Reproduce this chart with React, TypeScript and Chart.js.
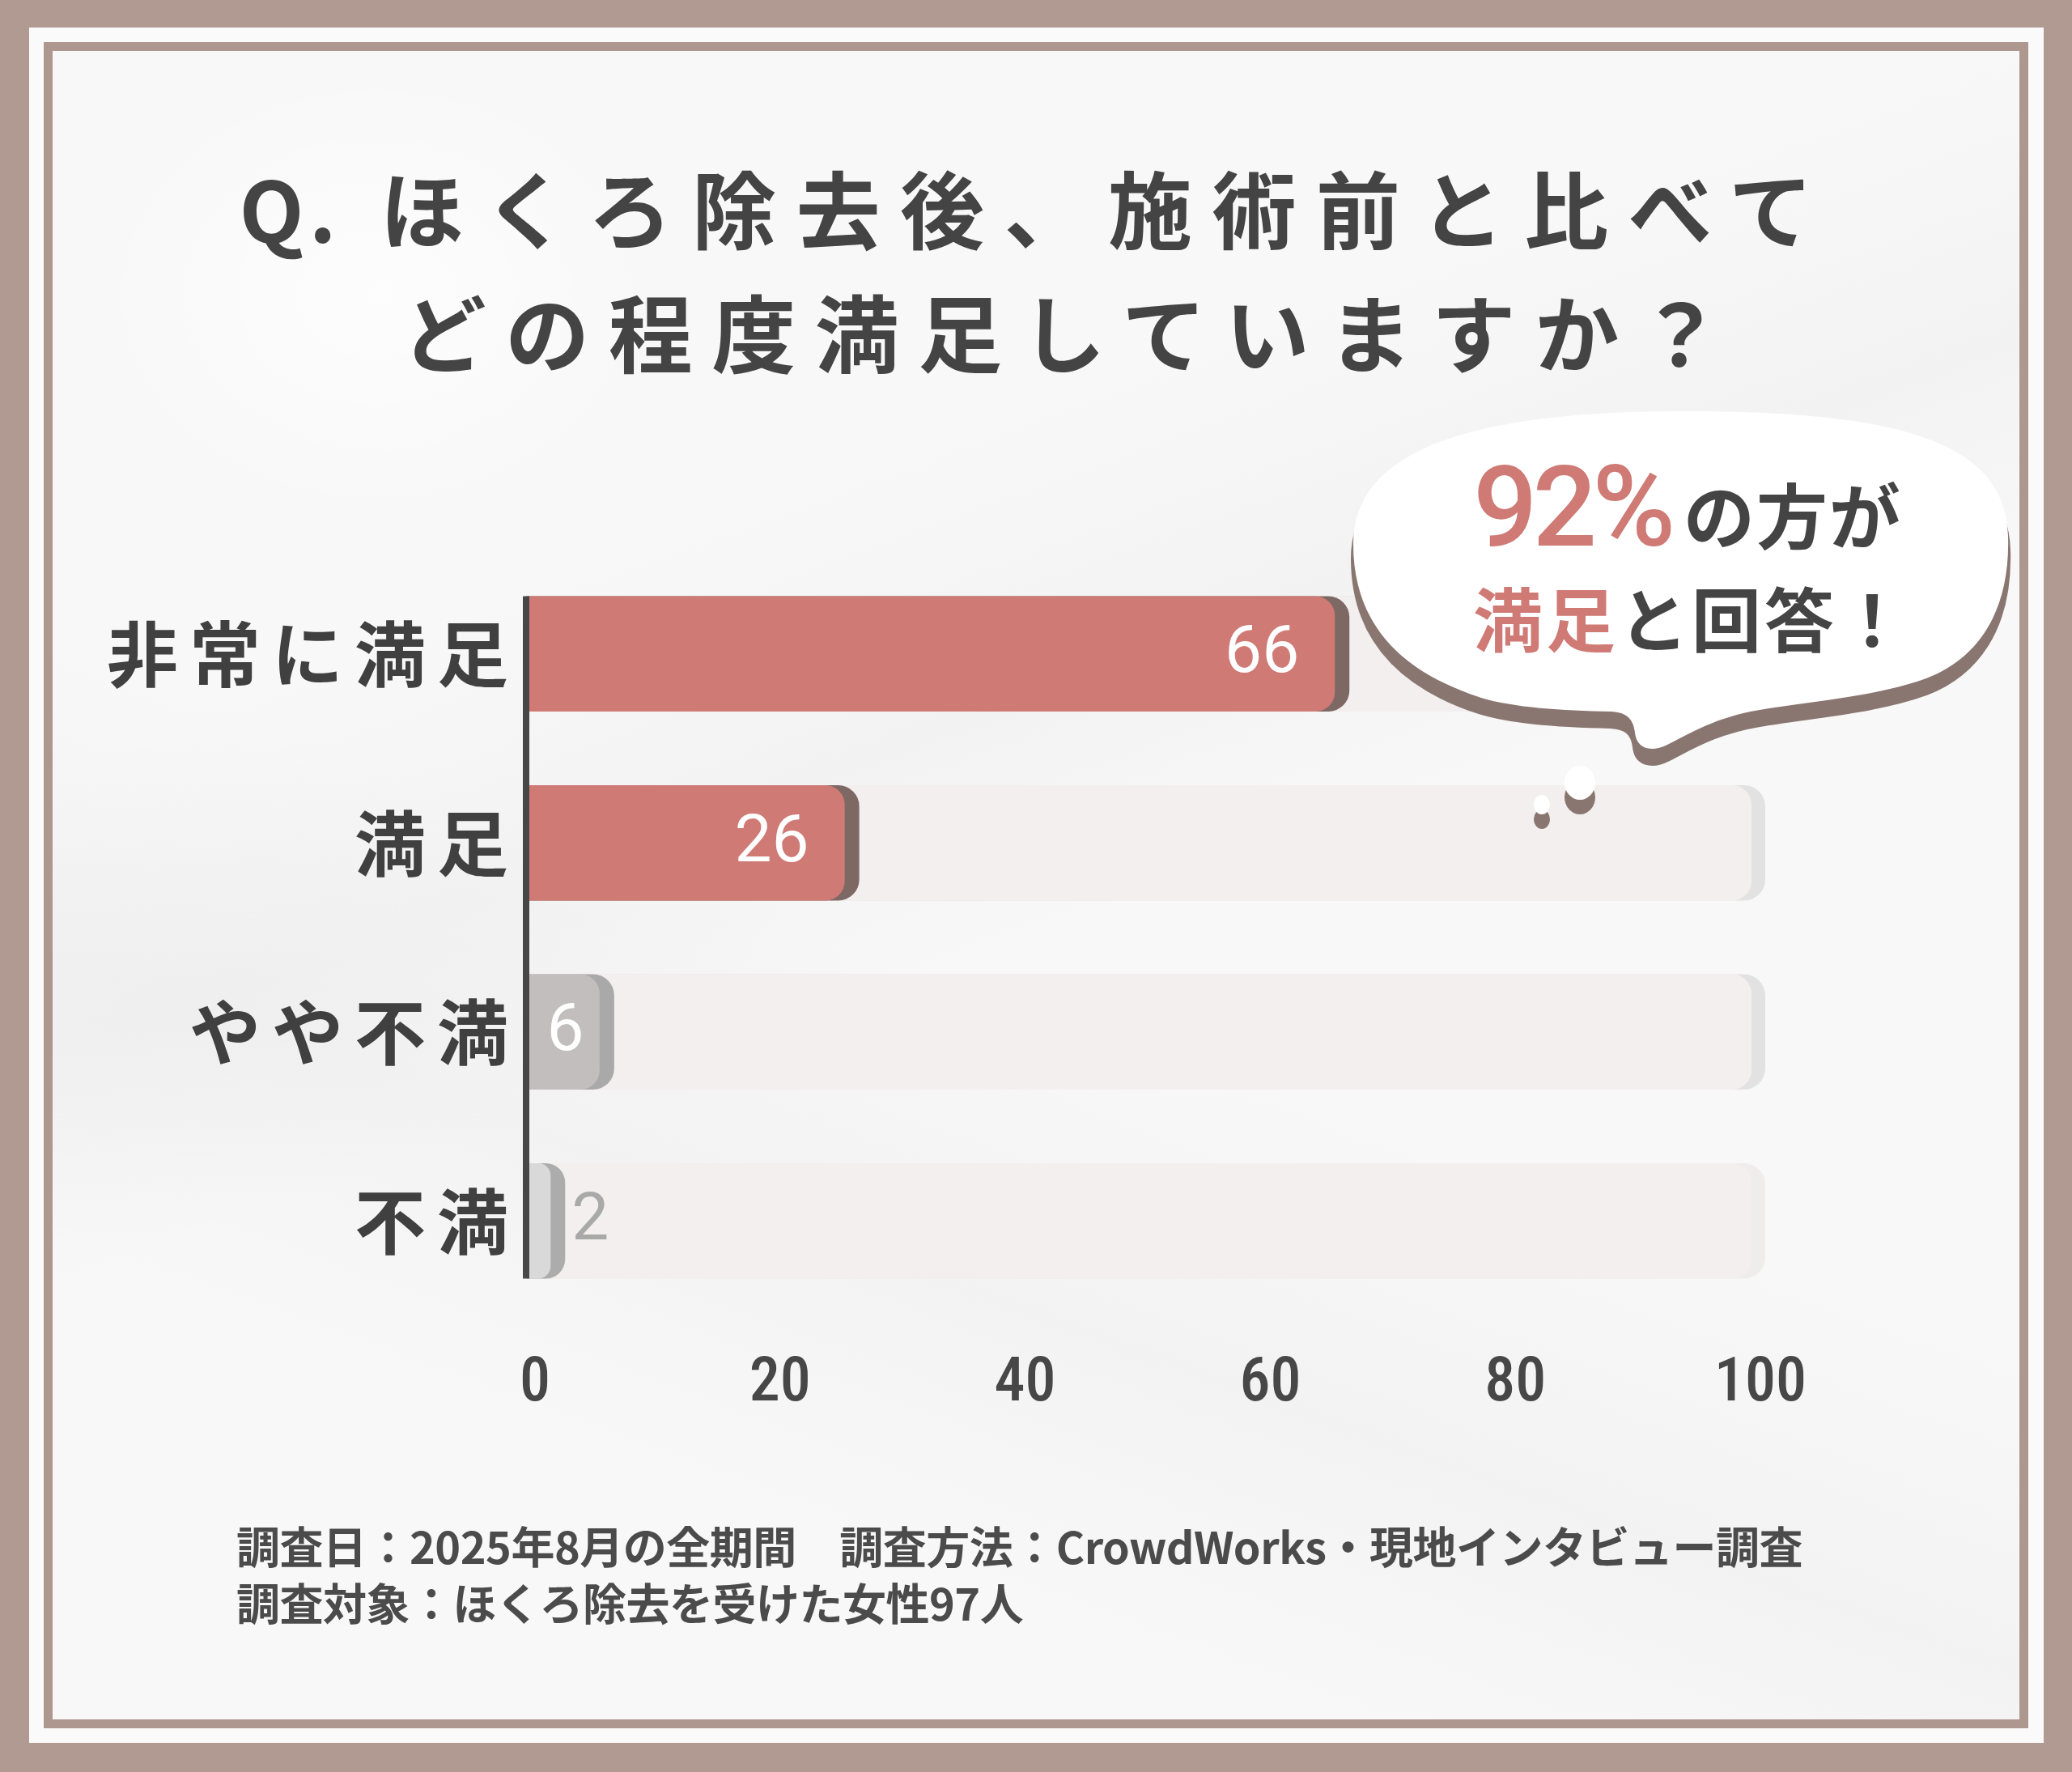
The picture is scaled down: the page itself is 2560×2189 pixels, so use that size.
import React, { useEffect, useRef } from 'react';
import { Chart, registerables } from 'chart.js';

Chart.register(...registerables);

// ---- data ----
const categories = ['非常に満足', '満足', 'やや不満', '不満'];
const values = [66, 26, 6, 2];
const trackValues = [100, 100, 100, 100];
const xMin = 0;
const xMax = 100;
const xStep = 20;

// ---- styles ----
const barColors = ['#cf7a75', '#cf7a75', '#c2bebd', '#d9d9d9'];
const barShadowColors = ['#7e6864', '#7e6864', '#a9a9a9', '#acacac'];
const trackColor = '#f2efee';
const trackShadowColors = ['#e3e2e2', '#e3e2e2', '#e3e2e2', '#efedec'];
const valueLabelInside = '#ffffff';
const valueLabelOutside = '#a9a9a9';

const titlePrefix = 'Q.';
const titleLine1 = ' ほくろ除去後、施術前と比べて';
const titleLine2 = 'どの程度満足していますか？';
const footerLines = [
  '調査日：2025年8月の全期間　調査方法：CrowdWorks・現地インタビュー調査',
  '調査対象：ほくろ除去を受けた女性97人',
];

const JP = "'Noto Sans CJK JP', 'Noto Sans', sans-serif";
const DARK = '#444444';
const RED = '#cf7a75';

const W = 2560;
const H = 2189;

const shadowPlugin = {
  id: 'barShadows',
  beforeDatasetDraw(chart: any, args: any) {
    const isValues = args.index === 0;
    const colors = isValues ? barShadowColors : trackShadowColors;
    const off = isValues ? 18 : 17;
    const ctx = chart.ctx;
    args.meta.data.forEach((el: any, i: number) => {
      const p = el.getProps(['x', 'y', 'base', 'height'], true);
      const left = Math.min(p.base, p.x);
      const right = Math.max(p.base, p.x) + off;
      const top = p.y - p.height / 2;
      const h = p.height;
      const r = Math.min(26, (right - left) / 2, h / 2);
      ctx.save();
      ctx.fillStyle = colors[i];
      ctx.beginPath();
      ctx.roundRect(left, top, right - left, h, [0, r, r, 0]);
      ctx.fill();
      ctx.restore();
    });
  },
};

const labelPlugin = {
  id: 'valueLabels',
  afterUpdate(chart: any) {
    const ys: any = chart.scales.y;
    if (ys && !ys.__ls) {
      const orig = ys.drawLabels;
      ys.drawLabels = function (area: any) {
        const c = this.ctx;
        c.save();
        c.letterSpacing = '14px';
        orig.call(this, area);
        c.restore();
      };
      ys.__ls = true;
    }
  },
  afterDatasetsDraw(chart: any) {
    const ctx = chart.ctx;
    const meta = chart.getDatasetMeta(0);
    ctx.save();
    ctx.font = '400 82px Roboto, sans-serif';
    ctx.textBaseline = 'middle';
    meta.data.forEach((el: any, i: number) => {
      const p = el.getProps(['x', 'y', 'base'], true);
      const w = p.x - p.base;
      let tx: number;
      let align: CanvasTextAlign;
      let color: string;
      if (w >= 200) {
        tx = p.x - 44;
        align = 'right';
        color = valueLabelInside;
      } else if (w >= 60) {
        tx = (p.x + p.base) / 2 + 3;
        align = 'center';
        color = valueLabelInside;
      } else {
        tx = p.x + 26;
        align = 'left';
        color = valueLabelOutside;
      }
      ctx.textAlign = align;
      ctx.fillStyle = color;
      ctx.fillText(String(values[i]), tx, p.y + 2);
    });
    // axis line spanning the bars
    const first = meta.data[0].getProps(['y', 'height'], true);
    const last = meta.data[meta.data.length - 1].getProps(['y', 'height'], true);
    const top = first.y - first.height / 2;
    const bottom = last.y + last.height / 2;
    ctx.fillStyle = '#474747';
    ctx.fillRect(chart.chartArea.left - 4, top, 8, bottom - top);
    ctx.restore();
  },
};

function BarChart() {
  const ref = useRef<HTMLCanvasElement | null>(null);
  useEffect(() => {
    if (!ref.current) return;
    const chart = new Chart(ref.current, {
      type: 'bar',
      data: {
        labels: categories,
        datasets: [
          {
            label: '回答',
            data: values,
            backgroundColor: barColors,
            borderRadius: 24,
            order: 1,
          },
          {
            label: 'track',
            data: trackValues,
            backgroundColor: trackColor,
            borderRadius: 24,
            order: 2,
          },
        ],
      },
      options: {
        indexAxis: 'y',
        responsive: false,
        animation: false,
        devicePixelRatio: 1,
        layout: { padding: { left: 0, top: 691, right: W - 2164, bottom: 444 } },
        datasets: {
          bar: { grouped: false, categoryPercentage: 0.61, barPercentage: 1 },
        },
        scales: {
          x: {
            min: xMin,
            max: xMax,
            grid: { display: false },
            border: { display: false },
            ticks: {
              stepSize: xStep,
              color: '#474747',
              padding: 32,
              labelOffset: 11,
              font: { family: 'Roboto, sans-serif', size: 76, weight: '500 condensed' as any },
            },
            afterFit: (s: any) => {
              s.height = 120;
            },
          },
          y: {
            grid: { display: false },
            border: { display: false },
            ticks: {
              color: '#404040',
              padding: 0,
              font: { family: JP, size: 88, weight: 'bold' },
            },
            afterFit: (s: any) => {
              s.width = 650;
            },
          },
        },
        plugins: {
          legend: { display: false },
          tooltip: { enabled: false },
        },
      },
      plugins: [shadowPlugin, labelPlugin],
    });
    return () => chart.destroy();
  }, []);
  return (
    <canvas
      ref={ref}
      width={W}
      height={H}
      style={{ position: 'absolute', left: 0, top: 0, width: W, height: H }}
    />
  );
}

const bubblePath =
  'M 2080 508 C 2340 508, 2478 543, 2481 662 C 2484 760, 2440 815, 2380 838 ' +
  'C 2320 860, 2240 866, 2174 877 C 2120 886, 2090 905, 2060 920 ' +
  'C 2040 930, 2022 925, 2020 905 C 2018 888, 2010 880, 1990 879 ' +
  'C 1930 878, 1870 874, 1830 862 C 1730 830, 1672 770, 1672 672 ' +
  'C 1672 563, 1800 508, 2080 508 Z';

function Bubble() {
  return (
    <svg
      width={W}
      height={H}
      viewBox={`0 0 ${W} ${H}`}
      style={{ position: 'absolute', left: 0, top: 0, pointerEvents: 'none' }}
    >
      <g transform="translate(0,18)">
        <path d={bubblePath} fill="#8a7671" stroke="#8a7671" strokeWidth={6} />
        <ellipse cx={1952} cy={967} rx={19} ry={21} fill="#8a7671" />
        <ellipse cx={1905} cy={994} rx={10} ry={12} fill="#8a7671" />
      </g>
      <path d={bubblePath} fill="#ffffff" />
      <ellipse cx={1952} cy={967} rx={19} ry={21} fill="#ffffff" />
      <ellipse cx={1905} cy={994} rx={10} ry={12} fill="#ffffff" />
    </svg>
  );
}

export default function App() {
  const textBase: React.CSSProperties = {
    position: 'absolute',
    fontFamily: JP,
    fontWeight: 700,
    whiteSpace: 'nowrap',
    margin: 0,
  };
  return (
    <div
      style={{
        position: 'absolute',
        left: 0,
        top: 0,
        width: W,
        height: H,
        overflow: 'hidden',
        background: '#b09a91',
      }}
    >
      <div
        style={{
          position: 'absolute',
          left: 36,
          top: 34,
          width: 2525 - 36,
          height: 2153 - 34,
          background: '#fbfafa',
        }}
      />
      <div
        style={{
          position: 'absolute',
          left: 54,
          top: 52,
          width: 2506 - 54,
          height: 2135 - 52,
          boxSizing: 'border-box',
          border: '11px solid #ae978e',
          background:
            'linear-gradient(160deg, rgba(255,255,255,0) 30%, rgba(232,232,232,0.35) 42%, rgba(255,255,255,0) 52%),' +
            'linear-gradient(200deg, rgba(255,255,255,0) 55%, rgba(230,230,230,0.3) 68%, rgba(255,255,255,0) 80%),' +
            'radial-gradient(ellipse 500px 400px at 400px 300px, rgba(255,255,255,0.7), rgba(255,255,255,0) 70%),' +
            '#f8f8f8',
        }}
      />
      <BarChart />
      <Bubble />
      <div
        style={{
          ...textBase,
          left: 0,
          width: W,
          textAlign: 'center',
          top: 203,
          fontSize: 104,
          lineHeight: '104px',
          letterSpacing: '24.5px',
          color: DARK,
        }}
      >
        <span style={{ letterSpacing: '6px' }}>{titlePrefix}</span>
        {titleLine1}
      </div>
      <div
        style={{
          ...textBase,
          left: 44,
          width: W,
          textAlign: 'center',
          top: 356,
          fontSize: 104,
          lineHeight: '104px',
          letterSpacing: '23.5px',
          color: DARK,
        }}
      >
        {titleLine2}
      </div>
      <div
        style={{
          ...textBase,
          left: 1820,
          top: 556,
          fontFamily: 'Roboto, sans-serif',
          fontWeight: 500,
          fontSize: 140,
          lineHeight: '140px',
          letterSpacing: '-6px',
          color: RED,
        }}
      >
        92%
      </div>
      <div
        style={{
          ...textBase,
          left: 2080,
          top: 589,
          fontSize: 88,
          lineHeight: '88px',
          letterSpacing: '2px',
          color: DARK,
        }}
      >
        の方が
      </div>
      <div
        style={{
          ...textBase,
          left: 1820,
          top: 719,
          fontSize: 86,
          lineHeight: '86px',
          letterSpacing: '4px',
          color: DARK,
        }}
      >
        <span style={{ color: RED }}>満足</span>と回答！
      </div>
      {footerLines.map((t, i) => (
        <div
          key={i}
          style={{
            ...textBase,
            left: 292,
            top: i === 0 ? 1882 : 1952,
            fontSize: 54,
            lineHeight: '54px',
            letterSpacing: '-0.5px',
            color: '#4b4b4b',
          }}
        >
          {t}
        </div>
      ))}
    </div>
  );
}
